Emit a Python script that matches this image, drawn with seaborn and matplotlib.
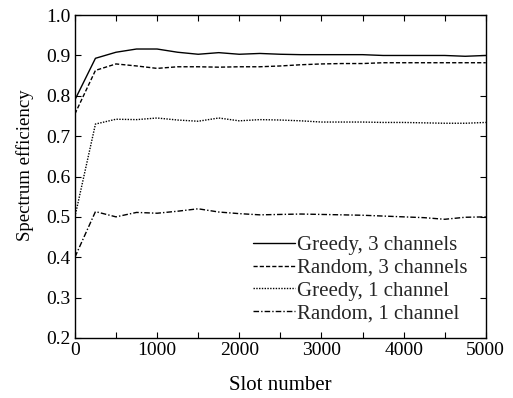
import numpy as np
import pandas as pd
import matplotlib
matplotlib.use("Agg")
import matplotlib.pyplot as plt
import seaborn as sns
from matplotlib.ticker import MultipleLocator

slots = list(range(0, 5001, 250))
greedy3 = [0.790, 0.893, 0.908, 0.916, 0.916, 0.908, 0.903, 0.907, 0.903, 0.905, 0.903,
           0.902, 0.902, 0.902, 0.902, 0.900, 0.900, 0.900, 0.900, 0.898, 0.900]
random3 = [0.755, 0.863, 0.879, 0.874, 0.868, 0.872, 0.872, 0.871, 0.872, 0.872, 0.874,
           0.877, 0.879, 0.880, 0.880, 0.882, 0.882, 0.882, 0.882, 0.882, 0.882]
greedy1 = [0.500, 0.730, 0.742, 0.741, 0.745, 0.740, 0.737, 0.745, 0.738, 0.741, 0.740,
           0.738, 0.735, 0.735, 0.735, 0.734, 0.734, 0.733, 0.732, 0.732, 0.734]
random1 = [0.400, 0.513, 0.500, 0.511, 0.509, 0.514, 0.520, 0.512, 0.508, 0.505, 0.506,
           0.507, 0.506, 0.505, 0.504, 0.502, 0.500, 0.498, 0.494, 0.499, 0.500]
labels = ["Greedy, 3 channels", "Random, 3 channels", "Greedy, 1 channel", "Random, 1 channel"]

df = pd.concat([
    pd.DataFrame({"Slot number": slots, "Spectrum efficiency": v, "Scheme": lab})
    for v, lab in zip([greedy3, random3, greedy1, random1], labels)
])

sns.set_theme(style="ticks")
plt.rcParams['font.family'] = ['Liberation Serif', 'DejaVu Serif']
plt.rcParams['mathtext.fontset'] = 'stix'

fig = plt.figure(figsize=(5.13, 3.98), dpi=100)
ax = fig.add_axes([0.146, 0.151, 0.801, 0.811])

styles = ["-", (0, (3, 1.5)), (0, (1, 1)), (0, (4, 1.5, 1, 1.5))]
for lab, ls in zip(labels, styles):
    sub = df[df["Scheme"] == lab]
    sns.lineplot(data=sub, x="Slot number", y="Spectrum efficiency", ax=ax,
                 color="black", linewidth=1.0, linestyle=ls, label=lab)

ax.set_xlim(0, 5000)
ax.set_ylim(0.2, 1.0)
ax.xaxis.set_major_locator(MultipleLocator(1000))
ax.xaxis.set_minor_locator(MultipleLocator(500))
ax.yaxis.set_major_locator(MultipleLocator(0.1))
ax.yaxis.set_major_formatter(matplotlib.ticker.FormatStrFormatter('%.1f'))
ax.tick_params(which="both", direction="in", top=True, right=True, labelsize=14,
               color="black", labelcolor="black", width=0.8)
ax.tick_params(which="major", length=4, pad=3)
ax.tick_params(which="minor", length=4)
for s in ax.spines.values():
    s.set_color("black")
    s.set_linewidth(1.0)
ax.set_xlabel("Slot number", fontsize=15, color="black", labelpad=12)
ax.set_ylabel("Spectrum efficiency", fontsize=13.5, color="black")
ax.yaxis.set_label_coords(-0.10, 0.535)
leg = ax.legend(loc="lower right", frameon=False, fontsize=15, handlelength=2.0,
                handletextpad=0.1, labelspacing=0.15, borderaxespad=0.3,
                bbox_to_anchor=(0.99, 0.0))
fig.savefig("out.png", dpi=100)
